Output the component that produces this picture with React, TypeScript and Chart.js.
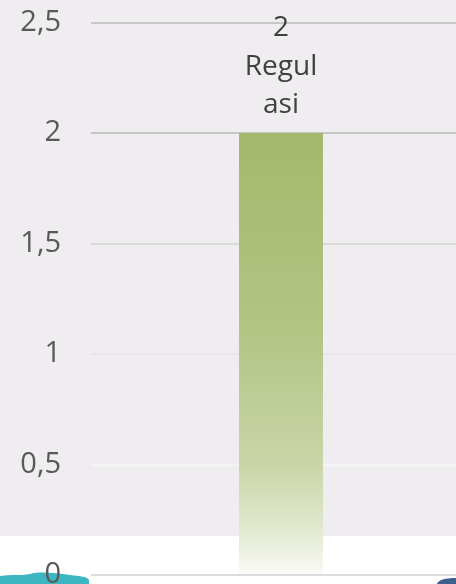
import React, { useEffect, useRef } from "react";
import { Chart, registerables } from "chart.js";

Chart.register(...registerables);

const categories: string[] = ["Regulasi"];
const values: number[] = [2];
const labelLines: string[][] = [["2", "Regul", "asi"]];
const yTicks: number[] = [0, 0.5, 1, 1.5, 2, 2.5];

const gridColors: string[] = ["#dcdcdc", "#f5f4f5", "#e8e6e8", "#dbdadb", "#c5c5c5", "#c8c8c8"];

const FONT = "'Open Sans', 'DejaVu Sans', sans-serif";
const VIEW_W = 456;
const CANVAS_W = 471;
const H = 584;

const backgroundPlugin = {
  id: "bgPlugin",
  beforeDraw(chart: any) {
    const { ctx, width, height } = chart;
    ctx.save();
    ctx.fillStyle = "#ffffff";
    ctx.fillRect(0, 0, width, height);
    ctx.fillStyle = "#efedef";
    ctx.fillRect(0, 0, width, height - 48);
    // decorative blobs at the bottom
    ctx.fillStyle = "#3cb6c3";
    ctx.beginPath();
    ctx.moveTo(0, height);
    ctx.lineTo(0, height - 8);
    ctx.bezierCurveTo(12, height - 10, 20, height - 8, 30, height - 10);
    ctx.bezierCurveTo(40, height - 13, 55, height - 11, 70, height - 9);
    ctx.bezierCurveTo(80, height - 8, 88, height - 7, 89, height - 4);
    ctx.lineTo(89, height);
    ctx.closePath();
    ctx.fill();
    ctx.fillStyle = "#3f5f8f";
    ctx.beginPath();
    ctx.moveTo(437, height);
    ctx.bezierCurveTo(438, height - 4, 445, height - 6, VIEW_W, height - 6);
    ctx.lineTo(width, height - 6);
    ctx.lineTo(width, height);
    ctx.closePath();
    ctx.fill();
    ctx.restore();
  },
};

const labelPlugin = {
  id: "labelPlugin",
  afterDatasetsDraw(chart: any) {
    const { ctx } = chart;
    const meta = chart.getDatasetMeta(0);
    ctx.save();
    ctx.fillStyle = "#404040";
    ctx.font = `28px ${FONT}`;
    ctx.textAlign = "center";
    ctx.textBaseline = "alphabetic";
    meta.data.forEach((bar: any, i: number) => {
      const lines = labelLines[i] || [];
      const lh = 38.5;
      const baseY = bar.y - 20 - (lines.length - 1) * lh;
      lines.forEach((t, j) => ctx.fillText(t, bar.x, baseY + j * lh));
    });
    ctx.restore();
  },
};

export default function App() {
  const ref = useRef<HTMLCanvasElement | null>(null);
  useEffect(() => {
    if (!ref.current) return;
    const chart = new Chart(ref.current, {
      type: "bar",
      data: {
        labels: categories,
        datasets: [
          {
            data: values,
            backgroundColor: (c: any) => {
              const area = c.chart.chartArea;
              if (!area) return "#a3b86c";
              const g = c.chart.ctx.createLinearGradient(0, c.chart.scales.y.getPixelForValue(values[0]), 0, area.bottom);
              g.addColorStop(0, "#a3b86c");
              g.addColorStop(0.45, "#b3c484");
              g.addColorStop(0.75, "#c9d5a7");
              g.addColorStop(0.9, "#e2e9d0");
              g.addColorStop(1, "#fafbf6");
              return g;
            },
            borderWidth: 0,
            categoryPercentage: 1,
            barPercentage: 0.221,
          },
        ],
      },
      options: {
        responsive: false,
        animation: false,
        layout: { padding: { top: 22.5, bottom: 9, left: 0, right: 0 } },
        plugins: { legend: { display: false }, tooltip: { enabled: false } },
        scales: {
          x: {
            display: false,
          },
          y: {
            min: 0,
            max: 2.5,
            afterFit: (s: any) => {
              s.width = 91;
              s.paddingTop = 0;
              s.paddingBottom = 0;
            },
            afterBuildTicks: (s: any) => {
              s.ticks = yTicks.map((v) => ({ value: v }));
            },
            ticks: {
              padding: 30,
              color: "#595959",
              font: { family: FONT, size: 29 },
              callback: (v: any) => String(v).replace(".", ","),
            },
            grid: {
              color: (c: any) => gridColors[c.index] || "#c8c8c8",
              lineWidth: 2,
              drawTicks: false,
            },
            border: { display: false },
          },
        },
      },
      plugins: [backgroundPlugin, labelPlugin],
    });
    return () => chart.destroy();
  }, []);
  return (
    <div style={{ position: "absolute", left: 0, top: 0, width: VIEW_W, height: H, overflow: "hidden" }}>
      <canvas ref={ref} width={CANVAS_W} height={H} style={{ display: "block" }} />
    </div>
  );
}
